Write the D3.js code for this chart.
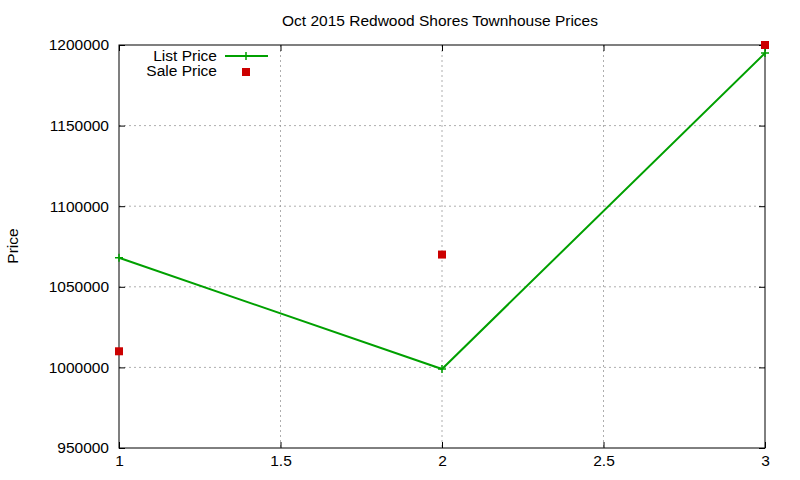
<!DOCTYPE html>
<html><head><meta charset="utf-8">
<script src="https://cdn.jsdelivr.net/npm/d3@7"></script>
<style>body{margin:0;background:#fff}text{font-family:"Liberation Sans",Arial,sans-serif;font-size:15.5px}</style>
</head><body><svg id="c" width="800" height="480"></svg>
<script>
const xs=[1,2,3];
const listPrice=[1068000,999000,1195000];
const salePrice=[1010000,1070000,1200000];
const xTicks=[1,1.5,2,2.5,3];
const yTicks=[950000,1000000,1050000,1100000,1150000,1200000];
const svg=d3.select("#c");
const L=119,R=765,T=45,B=448;
const x=d3.scaleLinear().domain([1,3]).range([L,R]);
const y=d3.scaleLinear().domain([950000,1200000]).range([B,T]);
svg.append("g").selectAll("line").data(xTicks.slice(1,-1)).join("line")
 .attr("x1",d=>x(d)).attr("x2",d=>x(d)).attr("y1",T).attr("y2",B)
 .attr("stroke","#999").attr("stroke-dasharray","2,3").attr("stroke-width",0.8);
svg.append("g").selectAll("line").data(yTicks.slice(1,-1)).join("line")
 .attr("x1",L).attr("x2",R).attr("y1",d=>y(d)).attr("y2",d=>y(d))
 .attr("stroke","#999").attr("stroke-dasharray","2,3").attr("stroke-width",0.8);
svg.append("rect").attr("x",L).attr("y",T).attr("width",R-L).attr("height",B-T).attr("fill","none").attr("stroke","#000");
const xa=svg.append("g").attr("transform",`translate(0,${B})`).call(d3.axisBottom(x).tickValues(xTicks).tickSize(-6).tickPadding(10).tickFormat(d3.format("")));
svg.append("g").attr("transform",`translate(0,${T})`).call(d3.axisTop(x).tickValues(xTicks).tickSize(-6).tickFormat(""));
svg.append("g").attr("transform",`translate(${L},0)`).call(d3.axisLeft(y).tickValues(yTicks).tickSize(-6).tickPadding(10).tickFormat(d3.format("d")));
svg.append("g").attr("transform",`translate(${R},0)`).call(d3.axisRight(y).tickValues(yTicks).tickSize(-6).tickFormat(""));
svg.selectAll(".domain").remove();
svg.selectAll(".tick text").attr("font-size",15.5).attr("fill","#000").attr("font-family","Liberation Sans, Arial, sans-serif");
xa.selectAll(".tick text").attr("dy","0.5em");
svg.append("text").attr("x",440).attr("y",26).attr("text-anchor","middle").text("Oct 2015 Redwood Shores Townhouse Prices");
svg.append("text").attr("transform","translate(18,246) rotate(-90)").attr("text-anchor","middle").text("Price");
const g="#00a000";
svg.append("path").datum(xs.map((d,i)=>[d,listPrice[i]])).attr("fill","none").attr("stroke",g).attr("stroke-width",2)
 .attr("d",d3.line().x(d=>x(d[0])).y(d=>y(d[1])));
const plus=(sel)=>sel.append("path").attr("stroke",g).attr("stroke-width",1.5).attr("fill","none");
xs.forEach((d,i)=>{plus(svg).attr("d",`M${x(d)-4},${y(listPrice[i])}h8M${x(d)},${y(listPrice[i])-4}v8`);});
svg.selectAll(".sale").data(xs).join("rect").attr("x",d=>x(d)-4).attr("y",(d,i)=>y(salePrice[i])-4).attr("width",8).attr("height",8).attr("fill","#cc0000");
svg.append("text").attr("x",217).attr("y",61).attr("text-anchor","end").text("List Price");
svg.append("line").attr("x1",225).attr("x2",268).attr("y1",56).attr("y2",56).attr("stroke",g).attr("stroke-width",2);
plus(svg).attr("d",`M242,56h8M246,52v8`);
svg.append("text").attr("x",217).attr("y",76).attr("text-anchor","end").text("Sale Price");
svg.append("rect").attr("x",242).attr("y",68).attr("width",8).attr("height",8).attr("fill","#cc0000");
</script></body></html>
